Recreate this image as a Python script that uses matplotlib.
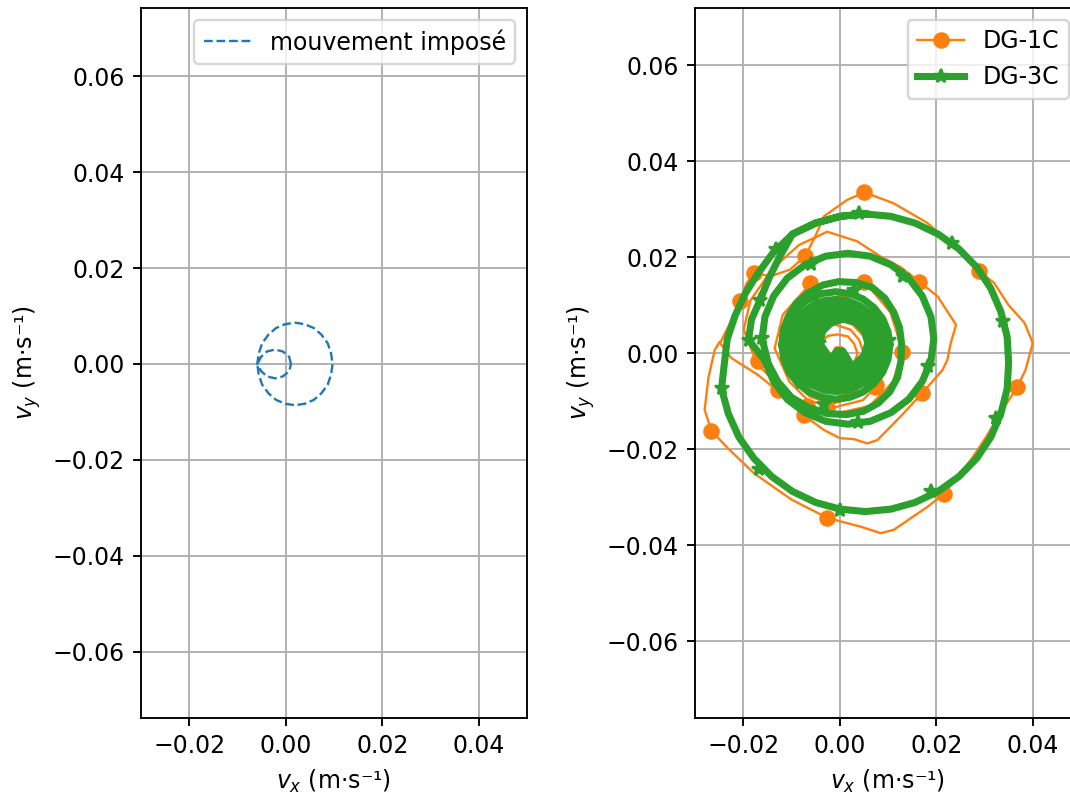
import numpy as np
import matplotlib
matplotlib.use("Agg")
import matplotlib.pyplot as plt
from matplotlib.lines import Line2D

# ---------- DATA ----------
# imposed motion (left panel): small loop, big loop, back to start
imp_vx = [0.0011, 0.0007, -0.0006, -0.0022, -0.0039, -0.0051,
          -0.0059, -0.0056, -0.0049, -0.0036, -0.0020, -0.0001, 0.0019, 0.0039, 0.0058, 0.0074, 0.0087, 0.0094,
          0.0097, 0.0094, 0.0087, 0.0074, 0.0058, 0.0039, 0.0019, -0.0001, -0.0020, -0.0036, -0.0049, -0.0056, -0.0059,
          -0.0051, -0.0039, -0.0022, -0.0006, 0.0007, 0.0011]
imp_vy = [0.0, 0.0015, 0.0026, 0.0030, 0.0026, 0.0015,
          0.0, -0.0022, -0.0043, -0.0061, -0.0075, -0.0083, -0.0086, -0.0083, -0.0075, -0.0061, -0.0043, -0.0022,
          0.0, 0.0022, 0.0043, 0.0061, 0.0075, 0.0083, 0.0086, 0.0083, 0.0075, 0.0061, 0.0043, 0.0022, 0.0,
          -0.0015, -0.0026, -0.0030, -0.0026, -0.0015, 0.0]

# DG-1C response (orange), traced from the centre outwards
dg1_vx = [-0.0014, -0.0008, 0.0004, 0.0010, 0.0004, -0.0008,
          -0.0006, 0.0001, 0.0015, 0.0022, 0.0015, 0.0001,
          -0.0045, -0.0040, -0.0025, -0.0005, 0.0017, 0.0030, 0.0037, 0.0029, 0.0013, -0.0005, -0.0026, -0.0041,
          -0.0072, -0.0063, -0.0040, -0.0008, 0.0022, 0.0040, 0.0051, 0.0044, 0.0019, -0.0011, -0.0041, -0.0064,
          -0.0088, -0.0080, -0.0050, -0.0010, 0.0026, 0.0054, 0.0062, 0.0051, 0.0026, -0.0013, -0.0052, -0.0077,
          -0.0101, -0.0090, -0.0058, -0.0010, 0.0034, 0.0066, 0.0077, 0.0064, 0.0030, -0.0014, -0.0058, -0.0088,
          -0.0113, -0.0101, -0.0063, -0.0011, 0.0039, 0.0077, 0.0090, 0.0074, 0.0038, -0.0014, -0.0061, -0.0098,
          -0.0122, -0.0108, -0.0068, -0.0008, 0.0046, 0.0087, 0.0102, 0.0084, 0.0048, -0.0012, -0.0066, -0.0104,
          -0.0135, -0.0118, -0.0065, 0.0000, 0.0055, 0.0105, 0.0130, 0.0110, 0.0062, -0.0005, -0.0075, -0.0125,
          -0.0172, -0.0199, -0.0185, -0.0140, -0.0085, -0.0026, 0.0036, 0.0085, 0.0125, 0.0165, 0.0203, 0.0241,
          0.0230, 0.0223, 0.0213, 0.0171, 0.0126, 0.0078, 0.0057, 0.0029, 0.0000, -0.0033, -0.0075, -0.0123,
          -0.0170, -0.0225, -0.0248, -0.0227, -0.0207, -0.0193, -0.0175, -0.0144, -0.0103, -0.0071, -0.0050,
          -0.0033, 0.0015, 0.0051, 0.0112, 0.0182, 0.0251, 0.0289, 0.0320, 0.0350, 0.0383, 0.0400, 0.0385,
          0.0368, 0.0342, 0.0300, 0.0272, 0.0216, 0.0182, 0.0112, 0.0085, 0.0045, -0.0026, -0.0100, -0.0178,
          -0.0230, -0.0266, -0.0280, -0.0272, -0.0259, -0.0250]
dg1_vy = [0.0002, 0.0012, 0.0012, 0.0002, -0.0008, -0.0008,
          -0.0025, -0.0013, -0.0013, -0.0025, -0.0037, -0.0037,
          0.0000, 0.0021, 0.0036, 0.0039, 0.0035, 0.0019, -0.0001, -0.0022, -0.0035, -0.0042, -0.0034, -0.0019,
          -0.0002, 0.0028, 0.0054, 0.0059, 0.0049, 0.0028, -0.0004, -0.0033, -0.0056, -0.0064, -0.0055, -0.0033,
          -0.0004, 0.0034, 0.0062, 0.0072, 0.0060, 0.0031, -0.0006, -0.0041, -0.0070, -0.0081, -0.0068, -0.0042,
          -0.0003, 0.0040, 0.0072, 0.0084, 0.0070, 0.0037, -0.0006, -0.0050, -0.0081, -0.0094, -0.0080, -0.0049,
          -0.0004, 0.0046, 0.0083, 0.0097, 0.0082, 0.0044, -0.0005, -0.0055, -0.0090, -0.0105, -0.0091, -0.0056,
          -0.0004, 0.0052, 0.0092, 0.0107, 0.0090, 0.0050, -0.0003, -0.0060, -0.0098, -0.0113, -0.0098, -0.0060,
          0.0010, 0.0080, 0.0140, 0.0150, 0.0145, 0.0085, 0.0005, -0.0060, -0.0110, -0.0125, -0.0115, -0.0070,
          -0.0021, 0.0049, 0.0110, 0.0175, 0.0225, 0.0253, 0.0233, 0.0201, 0.0180, 0.0149, 0.0118, 0.0059,
          0.0021, -0.0014, -0.0035, -0.0083, -0.0132, -0.0181, -0.0188, -0.0179, -0.0177, -0.0160, -0.0129, -0.0083,
          -0.0045, -0.0010, 0.0021, 0.0063, 0.0108, 0.0146, 0.0167, 0.0160, 0.0174, 0.0203, 0.0245,
          0.0285, 0.0319, 0.0335, 0.0312, 0.0271, 0.0208, 0.0171, 0.0146, 0.0100, 0.0063, 0.0021, -0.0035,
          -0.0070, -0.0111, -0.0180, -0.0222, -0.0293, -0.0320, -0.0368, -0.0375, -0.0362, -0.0343, -0.0305, -0.0250,
          -0.0200, -0.0162, -0.0118, -0.0050, 0.0007, 0.0022]
dg1_mark_x = [0.0051, 0.0289, 0.0368, 0.0216, -0.0026, -0.0266, -0.0207, -0.0177, -0.0071,
              0.0165, 0.0171, -0.0075, -0.0129, 0.0050, -0.0061, 0.0005, 0.0130, 0.0074,
              -0.0170, -0.0107, -0.0068, -0.0026, 0.0076]
dg1_mark_y = [0.0335, 0.0171, -0.0070, -0.0293, -0.0343, -0.0162, 0.0108, 0.0167, 0.0203,
              0.0149, -0.0083, -0.0129, -0.0076, 0.0149, 0.0146, 0.0108, 0.0003, -0.0070,
              -0.0016, 0.0014, -0.0111, -0.0115, -0.0066]

# DG-3C response (green), traced from the centre outwards
dg3_vx = [-0.0012, -0.0006, 0.0006, 0.0012, 0.0006, -0.0006,
          -0.0010, -0.0002, 0.0014, 0.0022, 0.0014, -0.0002,
          -0.0042, -0.0035, -0.0017, 0.0008, 0.0033, 0.0051, 0.0058, 0.0051, 0.0033, 0.0008, -0.0017, -0.0035,
          -0.0055, -0.0047, -0.0025, 0.0005, 0.0035, 0.0057, 0.0065, 0.0057, 0.0035, 0.0005, -0.0025, -0.0047,
          -0.0068, -0.0059, -0.0033, 0.0002, 0.0037, 0.0063, 0.0072, 0.0063, 0.0037, 0.0002, -0.0033, -0.0059,
          -0.0082, -0.0071, -0.0042, -0.0002, 0.0038, 0.0067, 0.0078, 0.0067, 0.0038, -0.0002, -0.0042, -0.0071,
          -0.0095, -0.0083, -0.0050, -0.0005, 0.0040, 0.0073, 0.0085, 0.0073, 0.0040, -0.0005, -0.0050, -0.0083,
          -0.0106, -0.0103, -0.0093, -0.0077, -0.0057, -0.0033, -0.0008, 0.0017, 0.0041, 0.0061, 0.0077, 0.0087,
          0.0090, 0.0087, 0.0077, 0.0061, 0.0041, 0.0017, -0.0008, -0.0033, -0.0057, -0.0077, -0.0093, -0.0103,
          -0.0120, -0.0116, -0.0105, -0.0087, -0.0064, -0.0037, -0.0008, 0.0021, 0.0048, 0.0071, 0.0089, 0.0100,
          0.0104, 0.0100, 0.0089, 0.0071, 0.0048, 0.0021, -0.0008, -0.0037, -0.0064, -0.0087, -0.0105, -0.0116,
          -0.0120, -0.0117, -0.0107, -0.0090, -0.0066, -0.0035, -0.0002, 0.0034, 0.0067, 0.0093, 0.0112, 0.0124,
          0.0128, 0.0127, 0.0120, 0.0104, 0.0080, 0.0049, 0.0015, -0.0025, -0.0065, -0.0100, -0.0128, -0.0148,
          -0.0161, -0.0155, -0.0137, -0.0109, -0.0072, -0.0029, 0.0017, 0.0063, 0.0106, 0.0143, 0.0171, 0.0189,
          0.0195, 0.0189, 0.0171, 0.0143, 0.0106, 0.0063, 0.0017, -0.0029, -0.0072, -0.0109, -0.0137, -0.0155,
          -0.0189, -0.0183, -0.0165, -0.0145, -0.0125,
          -0.0098, -0.0050, 0.0001, 0.0053, 0.0106, 0.0156, 0.0204, 0.0247, 0.0284, 0.0313, 0.0334, 0.0347,
          0.0350, 0.0347, 0.0334, 0.0313, 0.0284, 0.0247, 0.0204, 0.0156, 0.0106, 0.0053, 0.0001, -0.0050,
          -0.0098, -0.0141, -0.0178, -0.0209, -0.0231, -0.0245, -0.0239, -0.0233, -0.0217, -0.0196, -0.0169,
          -0.0139, -0.0098, -0.0050, 0.0001, 0.0053]
dg3_vy = [-0.0005, 0.0005, 0.0005, -0.0005, -0.0015, -0.0015,
          -0.0022, -0.0008, -0.0008, -0.0022, -0.0036, -0.0036,
          0.0021, 0.0046, 0.0064, 0.0071, 0.0064, 0.0046, 0.0021, -0.0004, -0.0022, -0.0029, -0.0022, -0.0004,
          0.0020, 0.0050, 0.0072, 0.0080, 0.0072, 0.0050, 0.0020, -0.0010, -0.0032, -0.0040, -0.0032, -0.0010,
          0.0019, 0.0053, 0.0078, 0.0087, 0.0078, 0.0053, 0.0019, -0.0015, -0.0040, -0.0049, -0.0040, -0.0015,
          0.0018, 0.0057, 0.0085, 0.0095, 0.0085, 0.0057, 0.0018, -0.0021, -0.0049, -0.0059, -0.0049, -0.0021,
          0.0017, 0.0060, 0.0092, 0.0103, 0.0092, 0.0060, 0.0017, -0.0026, -0.0058, -0.0069, -0.0058, -0.0026,
          0.0016, 0.0041, 0.0064, 0.0084, 0.0099, 0.0109, 0.0112, 0.0109, 0.0099, 0.0084, 0.0064, 0.0041,
          0.0016, -0.0009, -0.0032, -0.0052, -0.0067, -0.0077, -0.0080, -0.0077, -0.0067, -0.0052, -0.0032, -0.0009,
          0.0016, 0.0045, 0.0072, 0.0095, 0.0113, 0.0124, 0.0128, 0.0124, 0.0113, 0.0095, 0.0072, 0.0045,
          0.0016, -0.0013, -0.0040, -0.0063, -0.0081, -0.0092, -0.0096, -0.0092, -0.0081, -0.0063, -0.0040, -0.0013,
          0.0016, 0.0048, 0.0076, 0.0104, 0.0125, 0.0142, 0.0149, 0.0147, 0.0137, 0.0115, 0.0085, 0.0053,
          0.0020, -0.0016, -0.0050, -0.0080, -0.0104, -0.0121, -0.0128, -0.0126, -0.0113, -0.0092, -0.0060, -0.0022,
          0.0030, 0.0076, 0.0119, 0.0156, 0.0184, 0.0202, 0.0208, 0.0202, 0.0184, 0.0156, 0.0119, 0.0076,
          0.0030, -0.0016, -0.0059, -0.0096, -0.0124, -0.0142, -0.0148, -0.0142, -0.0124, -0.0096, -0.0059, -0.0016,
          0.0028, 0.0070, 0.0111, 0.0160, 0.0200,
          0.0248, 0.0271, 0.0285, 0.0290, 0.0285, 0.0271, 0.0248, 0.0217, 0.0179, 0.0135, 0.0086, 0.0034,
          -0.0020, -0.0074, -0.0126, -0.0175, -0.0219, -0.0257, -0.0288, -0.0311, -0.0325, -0.0330, -0.0325, -0.0311,
          -0.0288, -0.0257, -0.0219, -0.0175, -0.0126, -0.0074, -0.0020, 0.0030, 0.0078, 0.0124, 0.0167,
          0.0208, 0.0248, 0.0271, 0.0285, 0.0290]
dg3_mark_x = [-0.0245, -0.0168, 0.0000, 0.0190, 0.0324, 0.0339, 0.0232, 0.0039, -0.0132,
              -0.0165, -0.0189, -0.0161, -0.0060, 0.0132, 0.0182, 0.0038,
              -0.0053, 0.0029, 0.0102, -0.0057, -0.0103, -0.0044, -0.0033, -0.0026, 0.0060, 0.0080, -0.0080, 0.0000]
dg3_mark_y = [-0.0073, -0.0242, -0.0326, -0.0288, -0.0135, 0.0068, 0.0230, 0.0292, 0.0217,
              0.0111, 0.0028, 0.0031, 0.0186, 0.0161, -0.0026, -0.0143,
              0.0119, 0.0132, 0.0028, 0.0073, -0.0021, 0.0021, -0.0105, 0.0094, -0.0060, 0.0060, -0.0060, 0.0085]

xticks = [-0.02, 0.00, 0.02, 0.04]
yticks = [-0.06, -0.04, -0.02, 0.00, 0.02, 0.04, 0.06]

# ---------- PLOT ----------
DPI = 170
fig = plt.figure(figsize=(1070 / DPI, 794 / DPI), dpi=DPI)
ax1 = fig.add_axes([141 / 1070, 76.5 / 794, 386 / 1070, 709.5 / 794])
ax2 = fig.add_axes([695 / 1070, 76.5 / 794, 386 / 1070, 709.5 / 794])

ax1.plot(imp_vx, imp_vy, "--", color="C0", lw=1.0, label="mouvement imposé")
ax1.set_xlim(-0.03, 0.05)
ax1.set_ylim(-0.0737, 0.0742)

ax2.plot(dg1_vx, dg1_vy, color="C1", lw=1.0)
ax2.plot(dg1_mark_x, dg1_mark_y, "o", color="C1", ms=6)
ax2.plot(dg3_vx, dg3_vy, color="C2", lw=3.0)
ax2.plot(dg3_mark_x, dg3_mark_y, "*", color="C2", ms=6)
ax2.set_xlim(-0.03, 0.05)
ax2.set_ylim(-0.0759, 0.0719)

handles = [Line2D([], [], color="C1", lw=1.0, marker="o", ms=6, label="DG-1C"),
           Line2D([], [], color="C2", lw=3.0, marker="*", ms=6, label="DG-3C")]

for ax in (ax1, ax2):
    ax.set_xticks(xticks)
    ax.set_yticks(yticks)
    ax.grid(True)
    ax.set_xlabel(r"$v_x$ (m·s⁻¹)")
    ax.set_ylabel(r"$v_y$ (m·s⁻¹)")

ax1.legend(loc="upper right")
ax2.legend(handles=handles, loc="upper right")

fig.savefig("out.png", dpi=DPI)
